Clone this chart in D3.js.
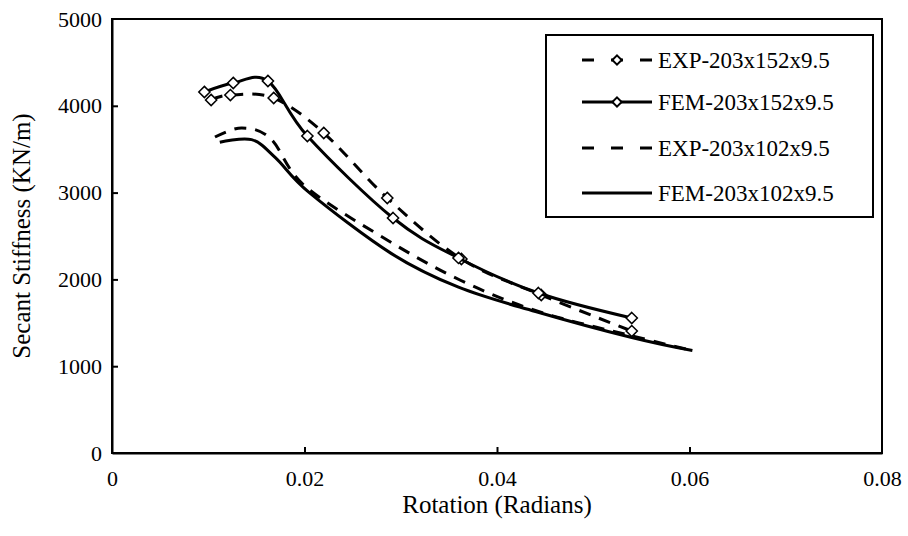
<!DOCTYPE html>
<html>
<head>
<meta charset="utf-8">
<script src="https://cdn.jsdelivr.net/npm/d3@7"></script>
<style>
  body { margin: 0; background: #fff; }
  text { font-family: "Liberation Serif", "Times New Roman", serif; fill: #000; }
</style>
</head>
<body>
<svg id="chart"></svg>
<script>
// rotation (radians) and secant stiffness (KN/m)
var rotExp152 = [0.0103, 0.0123, 0.0168, 0.0220, 0.0286, 0.0363, 0.0446, 0.0540];
var stfExp152 = [4067, 4124, 4090, 3687, 2938, 2235, 1820, 1405];

var rotFem152 = [0.0096, 0.0126, 0.0162, 0.0203, 0.0292, 0.0360, 0.0443, 0.0540];
var stfFem152 = [4159, 4263, 4286, 3652, 2707, 2247, 1843, 1555];

var rotExp102 = [0.0107, 0.0135, 0.0165, 0.0200, 0.0285, 0.0362, 0.0443, 0.0540, 0.0603];
var stfExp102 = [3640, 3745, 3620, 3080, 2460, 1990, 1630, 1350, 1180];

var rotFem102 = [0.0112, 0.0145, 0.0170, 0.0205, 0.0290, 0.0360, 0.0440, 0.0540, 0.0603];
var stfFem102 = [3580, 3610, 3400, 3000, 2300, 1910, 1630, 1330, 1180];

var seriesNames = ["EXP-203x152x9.5", "FEM-203x152x9.5", "EXP-203x102x9.5", "FEM-203x102x9.5"];
var xTicks = [0, 0.02, 0.04, 0.06, 0.08];
var yTicks = [0, 1000, 2000, 3000, 4000, 5000];

var dimensions = {
    width: 908,
    height: 536,
    margins: { top: 19, right: 26, bottom: 83, left: 112 }
};
var innerW = dimensions.width - dimensions.margins.left - dimensions.margins.right;
var innerH = dimensions.height - dimensions.margins.top - dimensions.margins.bottom;

var svg = d3.select("#chart")
    .attr("width", dimensions.width)
    .attr("height", dimensions.height);

var g = svg.append("g")
    .attr("transform", "translate(" + dimensions.margins.left + "," + dimensions.margins.top + ")");

var xScale = d3.scaleLinear().domain([0, 0.08]).range([0, innerW]);
var yScale = d3.scaleLinear().domain([0, 5000]).range([innerH, 0]);

// plot frame
g.append("rect")
    .attr("width", innerW)
    .attr("height", innerH)
    .attr("fill", "none")
    .attr("stroke", "#000")
    .attr("stroke-width", 2);

// axes with inside ticks
var xAxis = g.append("g")
    .attr("transform", "translate(0," + innerH + ")")
    .call(d3.axisBottom(xScale).tickValues(xTicks).tickSizeInner(-6).tickSizeOuter(0)
        .tickPadding(17).tickFormat(d => d === 0 ? "0" : d3.format(".2f")(d)));
var yAxis = g.append("g")
    .call(d3.axisLeft(yScale).tickValues(yTicks).tickSizeInner(-6).tickSizeOuter(0)
        .tickPadding(10).tickFormat(d3.format("d")));

[xAxis, yAxis].forEach(function(ax) {
    ax.select(".domain").attr("stroke-width", 2);
    ax.selectAll(".tick line").attr("stroke-width", 2);
    ax.selectAll(".tick text")
        .style("font-family", "'Liberation Serif', 'Times New Roman', serif")
        .style("font-size", "22px");
});
xAxis.selectAll(".tick").filter(d => d === 0 || d === 0.08).select("line").remove();
yAxis.selectAll(".tick").filter(d => d === 0 || d === 5000).select("line").remove();

// axis titles
svg.append("text")
    .attr("x", dimensions.margins.left + innerW / 2)
    .attr("y", 513)
    .style("text-anchor", "middle")
    .style("font-size", "25px")
    .text("Rotation (Radians)");

svg.append("text")
    .attr("transform", "translate(30," + (dimensions.margins.top + innerH / 2) + ") rotate(-90)")
    .style("text-anchor", "middle")
    .style("font-size", "25px")
    .text("Secant Stiffness (KN/m)");

// series
var series = [
    { name: seriesNames[0], xs: rotExp152, ys: stfExp152, dash: "12,9", marker: true },
    { name: seriesNames[1], xs: rotFem152, ys: stfFem152, dash: null, marker: true },
    { name: seriesNames[2], xs: rotExp102, ys: stfExp102, dash: "12,9", marker: false },
    { name: seriesNames[3], xs: rotFem102, ys: stfFem102, dash: null, marker: false }
];

var line = d3.line()
    .x(d => xScale(d[0]))
    .y(d => yScale(d[1]))
    .curve(d3.curveCardinal.tension(0));

var diamond = d3.symbol().type(d3.symbolDiamond2).size(80);
var legendDiamond = d3.symbol().type(d3.symbolDiamond2).size(55);

series.forEach(function(s) {
    var pts = s.xs.map((x, i) => [x, s.ys[i]]);
    g.append("path")
        .datum(pts)
        .attr("d", line)
        .attr("fill", "none")
        .attr("stroke", "#000")
        .attr("stroke-width", 3)
        .attr("stroke-dasharray", s.dash);
    if (s.marker) {
        g.selectAll(null)
            .data(pts)
            .enter()
            .append("path")
            .attr("d", diamond)
            .attr("transform", d => "translate(" + xScale(d[0]) + "," + yScale(d[1]) + ")")
            .attr("fill", "#fff")
            .attr("stroke", "#000")
            .attr("stroke-width", 1.5);
    }
});

// legend
var legend = svg.append("g").attr("transform", "translate(546,35)");
legend.append("rect")
    .attr("width", 327)
    .attr("height", 182)
    .attr("fill", "#fff")
    .attr("stroke", "#000")
    .attr("stroke-width", 2);

var rowY = [25, 67, 113, 158];
series.forEach(function(s, i) {
    var row = legend.append("g").attr("transform", "translate(0," + rowY[i] + ")");
    row.append("line")
        .attr("x1", 36).attr("x2", 106)
        .attr("stroke", "#000")
        .attr("stroke-width", 3)
        .attr("stroke-dasharray", s.dash ? "12,17" : null);
    if (s.marker) {
        row.append("path")
            .attr("d", legendDiamond)
            .attr("transform", "translate(71,0)")
            .attr("fill", "#fff")
            .attr("stroke", "#000")
            .attr("stroke-width", 2);
    }
    row.append("text")
        .attr("x", 112)
        .attr("dy", "0.35em")
        .style("font-size", "23px")
        .text(s.name);
});
</script>
</body>
</html>
